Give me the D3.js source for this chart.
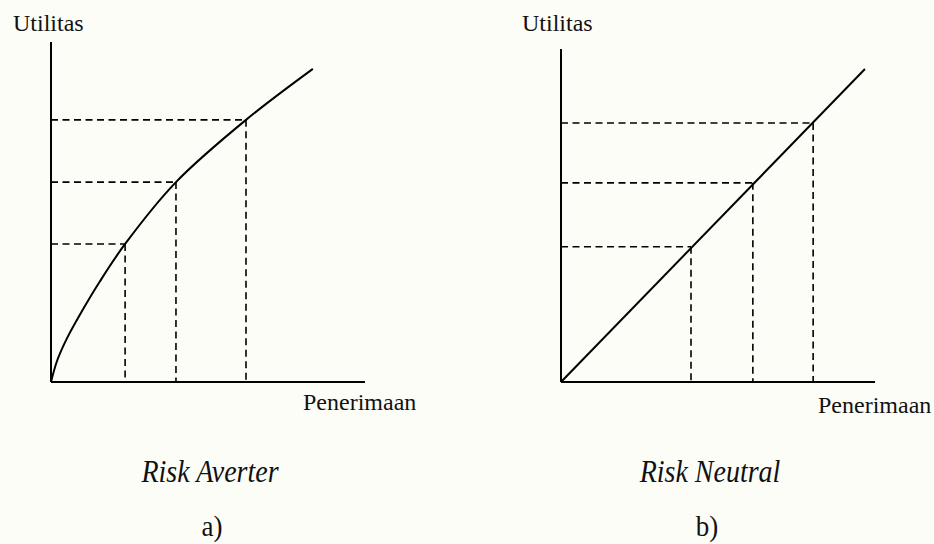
<!DOCTYPE html>
<html>
<head>
<meta charset="utf-8">
<script src="https://cdn.jsdelivr.net/npm/d3@7"></script>
<style>
  html, body { margin: 0; padding: 0; background: #fdfdf8; }
  svg { display: block; }
  text { font-family: "Liberation Serif", "Times New Roman", Times, serif; fill: #111; }
</style>
</head>
<body>
<div id="root"></div>
<script>
const width = 934;
const height = 544;

// curve points (revenue, utility), 0..10 units
const averterX = [0, 0.2, 0.5, 1.02, 1.55, 2.36, 3.98, 6.21, 8.34];
const averterY = [0, 0.64, 1.27, 2.14, 2.95, 4.06, 5.88, 7.71, 9.21];
// marked revenue levels and the utility at each
const averterMarksX = [2.36, 3.98, 6.21];
const averterMarksY = [4.06, 5.88, 7.71];

const neutralX = [0, 9.68];
const neutralY = [0, 9.4];
const neutralMarksX = [4.14, 6.11, 8.03];
const neutralMarksY = [4.06, 5.98, 7.78];

const titles = ["Risk Averter", "Risk Neutral"];
const letters = ["a)", "b)"];
const yLabel = "Utilitas";
const xLabel = "Penerimaan";

const svg = d3.select("#root")
    .append("svg")
    .attr("width", width)
    .attr("height", height)
    .attr("viewBox", [0, 0, width, height]);

svg.append("rect")
    .attr("width", width)
    .attr("height", height)
    .attr("fill", "#fdfdf8");

const panels = [
    { xs: averterX, ys: averterY, mx: averterMarksX, my: averterMarksY,
      left: 51, right: 365, top: 42, bottom: 382,
      curve: d3.curveCatmullRom.alpha(0.5),
      yLab: [13, 31], xLab: [303, 410], title: [210, 482], letter: [212, 536] },
    { xs: neutralX, ys: neutralY, mx: neutralMarksX, my: neutralMarksY,
      left: 561, right: 875, top: 49, bottom: 382,
      curve: d3.curveLinear,
      yLab: [522, 31], xLab: [818, 413], title: [710, 482], letter: [707, 536] },
];

panels.forEach((p, i) => {
    const x = d3.scaleLinear().domain([0, 10]).range([p.left, p.right]);
    const y = d3.scaleLinear().domain([0, 10]).range([p.bottom, p.top]);
    const g = svg.append("g");

    // axes
    g.append("line")
        .attr("x1", x(0)).attr("y1", y(0))
        .attr("x2", x(0)).attr("y2", y(10))
        .attr("stroke", "#000").attr("stroke-width", 2);
    g.append("line")
        .attr("x1", x(0)).attr("y1", y(0))
        .attr("x2", x(10)).attr("y2", y(0))
        .attr("stroke", "#000").attr("stroke-width", 2);

    const marks = p.mx.map((v, k) => ({ x: v, y: p.my[k] }));

    // dashed guides
    g.selectAll(".hguide")
        .data(marks)
        .join("line")
        .attr("x1", x(0)).attr("y1", d => y(d.y))
        .attr("x2", d => x(d.x)).attr("y2", d => y(d.y))
        .attr("stroke", "#000").attr("stroke-width", 1.6)
        .attr("stroke-dasharray", "7,4.5");
    g.selectAll(".vguide")
        .data(marks)
        .join("line")
        .attr("x1", d => x(d.x)).attr("y1", d => y(d.y))
        .attr("x2", d => x(d.x)).attr("y2", y(0))
        .attr("stroke", "#000").attr("stroke-width", 1.6)
        .attr("stroke-dasharray", "7,4.5");

    // utility curve
    const pts = p.xs.map((v, k) => [v, p.ys[k]]);
    g.append("path")
        .datum(pts)
        .attr("fill", "none")
        .attr("stroke", "#000")
        .attr("stroke-width", 2)
        .attr("d", d3.line().x(d => x(d[0])).y(d => y(d[1])).curve(p.curve));

    // labels
    g.append("text")
        .attr("x", p.yLab[0]).attr("y", p.yLab[1])
        .attr("font-size", 24)
        .text(yLabel);
    g.append("text")
        .attr("x", p.xLab[0]).attr("y", p.xLab[1])
        .attr("font-size", 24)
        .text(xLabel);
    g.append("text")
        .attr("transform", `translate(${p.title[0]},${p.title[1]}) scale(1,1.1)`)
        .attr("font-size", 28)
        .attr("font-style", "italic")
        .attr("text-anchor", "middle")
        .text(titles[i]);
    g.append("text")
        .attr("transform", `translate(${p.letter[0]},${p.letter[1]}) scale(1,1.1)`)
        .attr("font-size", 27)
        .attr("text-anchor", "middle")
        .text(letters[i]);
});
</script>
</body>
</html>
